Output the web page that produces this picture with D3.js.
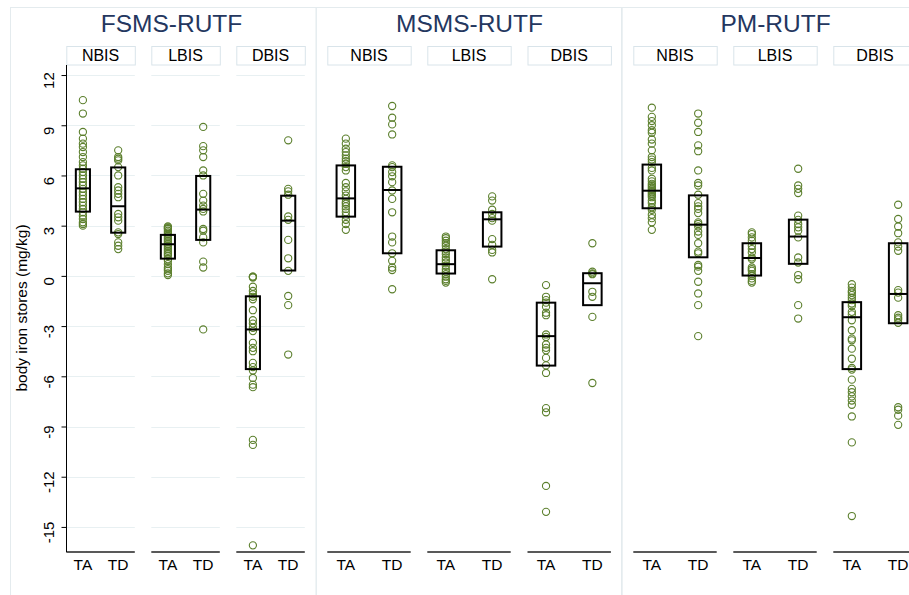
<!DOCTYPE html>
<html><head><meta charset="utf-8">
<script src="https://cdn.jsdelivr.net/npm/d3@7"></script>
<style>body{margin:0;background:#fff}svg{display:block;font-family:"Liberation Sans",Arial,sans-serif}</style>
</head><body>
<svg id="c" width="909" height="595"></svg>
<script>
// ---------- DATA ----------
const arms = ["FSMS-RUTF", "MSMS-RUTF", "PM-RUTF"];
const statuses = ["NBIS", "LBIS", "DBIS"];
const groups = ["TA", "TD"];
const yTicks = [12, 9, 6, 3, 0, -3, -6, -9, -12, -15];
const yTitle = "body iron stores (mg/kg)";

const fsms_nbis_ta = [10.5, 9.7, 8.6, 8.2, 7.9, 7.7, 7.4, 7.1, 6.8, 6.6, 6.4, 6.2, 6.0, 5.8, 5.6, 5.4, 5.2, 5.0, 4.8, 4.6, 4.4, 4.2, 4.0, 3.8, 3.6, 3.4, 3.2, 3.1, 3.0];
const fsms_nbis_td = [7.5, 7.1, 7.0, 6.9, 6.5, 6.0, 5.3, 5.1, 4.9, 4.7, 3.7, 3.5, 3.3, 2.6, 2.5, 2.0, 1.8, 1.6];
const fsms_lbis_ta = [2.95, 2.9, 2.85, 2.8, 2.7, 2.6, 2.5, 2.4, 2.3, 2.2, 2.1, 2.0, 1.9, 1.8, 1.7, 1.6, 1.5, 1.4, 1.3, 1.2, 1.0, 0.9, 0.7, 0.5, 0.4, 0.3, 0.15, 0.05];
const fsms_lbis_td = [8.9, 7.75, 7.5, 7.1, 6.3, 6.0, 4.9, 4.5, 4.2, 4.0, 3.85, 2.8, 2.7, 2.3, 2.0, 0.85, 0.5, -3.2];
const fsms_dbis_ta = [-0.05, -0.05, -0.1, -0.65, -0.9, -1.1, -1.25, -1.4, -2.05, -2.65, -2.85, -3.1, -3.3, -4.0, -4.3, -4.5, -5.2, -5.45, -5.65, -6.1, -6.5, -6.65, -9.8, -10.1, -16.1];
const fsms_dbis_td = [8.1, 5.2, 5.05, 4.85, 3.55, 3.35, 2.15, 1.05, 0.3, -1.2, -1.75, -4.7];

const msms_nbis_ta = [8.2, 7.9, 7.6, 7.4, 7.2, 7.0, 6.85, 6.7, 6.5, 6.3, 5.55, 5.3, 5.05, 4.8, 4.6, 4.4, 4.3, 4.15, 4.0, 3.8, 3.6, 3.35, 3.1, 2.75];
const msms_nbis_td = [10.15, 9.45, 9.05, 8.45, 6.6, 6.5, 6.2, 5.95, 5.6, 5.1, 4.6, 3.8, 2.35, 2.0, 1.35, 0.9, 0.5, 0.35, -0.8];
const msms_lbis_ta = [2.35, 2.25, 2.1, 1.95, 1.8, 1.6, 1.45, 1.3, 1.1, 0.95, 0.8, 0.6, 0.4, 0.25, 0.1, -0.05, -0.2, -0.3, -0.4];
const msms_lbis_td = [4.75, 4.5, 3.95, 3.7, 3.45, 3.3, 2.2, 1.85, 1.55, 1.4, -0.2];
const msms_dbis_ta = [-0.55, -1.25, -1.45, -1.6, -1.85, -2.2, -2.35, -3.5, -3.65, -4.1, -4.3, -4.45, -4.9, -5.35, -5.8, -7.9, -8.15, -12.55, -14.1];
const msms_dbis_td = [1.95, 0.25, 0.15, 0.1, -0.95, -1.25, -2.45, -6.4];

const pm_nbis_ta = [10.05, 9.5, 9.25, 9.0, 8.7, 8.55, 8.15, 7.9, 7.5, 7.1, 6.95, 6.8, 6.45, 6.3, 5.8, 5.65, 5.5, 5.4, 5.3, 5.2, 5.1, 5.0, 4.9, 4.8, 4.7, 4.5, 4.35, 4.1, 3.95, 3.65, 3.45, 3.2, 2.75];
const pm_nbis_td = [9.7, 9.15, 8.6, 7.8, 7.45, 6.3, 5.55, 5.4, 4.85, 4.35, 4.15, 4.0, 3.75, 3.2, 3.1, 2.95, 2.65, 2.45, 1.95, 1.45, 1.35, 0.65, 0.55, 0.3, -0.35, -1.05, -1.75, -3.6];
const pm_lbis_ta = [2.6, 2.5, 2.3, 2.1, 1.8, 1.6, 1.4, 1.1, 1.0, 0.5, 0.4, 0.3, 0.1, 0.0, -0.15, -0.3, -0.4];
const pm_lbis_td = [6.4, 5.4, 5.2, 4.95, 3.6, 3.35, 3.1, 2.9, 2.7, 2.3, 1.1, 0.8, 0.05, -0.2, -1.75, -2.55];
const pm_dbis_ta = [-0.5, -0.7, -0.9, -1.0, -1.15, -1.3, -1.45, -1.65, -1.8, -2.15, -2.3, -2.65, -3.25, -3.75, -3.85, -4.35, -4.95, -5.5, -5.6, -6.2, -6.75, -6.95, -7.2, -7.45, -7.7, -8.4, -9.95, -14.35];
const pm_dbis_td = [4.25, 3.4, 2.95, 2.55, 2.0, 1.75, 1.5, -0.85, -1.0, -1.3, -2.35, -2.5, -2.6, -2.8, -7.85, -8.0, -8.35, -8.9];

// box statistics (upper quartile, median, lower quartile), in order arm > status > group
const boxQ3  = [6.37, 6.48, 2.45, 5.97, -1.22, 4.79,  6.6, 6.52, 1.53, 3.8, -1.6, 0.16,  6.65, 4.81, 1.95, 3.36, -1.57, 1.95];
const boxMed = [5.23, 4.16, 1.89, 3.96, -3.2, 3.3,    4.63, 5.13, 0.7, 3.38, -3.6, -0.44, 5.09, 3.06, 1.07, 2.35, -2.47, -1.08];
const boxQ1  = [3.84, 2.58, 1.03, 2.15, -5.57, 0.32,  3.54, 1.35, 0.14, 1.75, -5.36, -1.75, 4.04, 1.11, 0.02, 0.72, -5.57, -2.83];

const series = [
  [[fsms_nbis_ta, fsms_nbis_td], [fsms_lbis_ta, fsms_lbis_td], [fsms_dbis_ta, fsms_dbis_td]],
  [[msms_nbis_ta, msms_nbis_td], [msms_lbis_ta, msms_lbis_td], [msms_dbis_ta, msms_dbis_td]],
  [[pm_nbis_ta, pm_nbis_td], [pm_lbis_ta, pm_lbis_td], [pm_dbis_ta, pm_dbis_td]]
];

// ---------- LAYOUT ----------
const panelLayout = [
  {x0: 10, x1: 315.7, titleX: 171.5, subs: [66.3, 151.3, 236.3], w: 68.5, pad: 0.47, grid: true},
  {x0: 315.7, x1: 621, titleX: 469.5, subs: [327.3, 427.3, 527.5], w: 83.4, pad: 0.4, grid: false},
  {x0: 621.7, x1: 960, titleX: 775.5, subs: [633.3, 733.3, 833.3], w: 83.4, pad: 0.4, grid: false}
];
const pointColor = "#5b7f2c";
const svg = d3.select("#c");
const y = d3.scaleLinear().domain([-16.48, 12.6]).range([551.7, 65]);

panelLayout.forEach((P, pi) => {
  svg.append("rect").attr("x", P.x0 + 0.5).attr("y", 7.5)
    .attr("width", P.x1 - P.x0).attr("height", 600)
    .attr("fill", "none").attr("stroke", "#e4ebee").attr("stroke-width", 1);
  svg.append("text").attr("x", P.titleX).attr("y", 32).attr("text-anchor", "middle")
    .attr("font-size", 24.5).attr("fill", "#24375f").text(arms[pi]);

  statuses.forEach((st, si) => {
    const L = P.subs[si], W = P.w;
    const x = d3.scalePoint().domain(groups).range([L, L + W]).padding(P.pad);
    const step = x.step();
    const g = svg.append("g");
    g.append("rect").attr("x", L + 0.5).attr("y", 46.5).attr("width", W).attr("height", 18.5)
      .attr("fill", "#fff").attr("stroke", "#d9e4ea").attr("stroke-width", 1);
    g.append("text").attr("x", L + W / 2).attr("y", 60.5).attr("text-anchor", "middle")
      .attr("font-size", 16).attr("fill", "#000").text(st);
    if (P.grid) {
      g.selectAll(".grid").data(yTicks).enter().append("line")
        .attr("x1", L).attr("x2", L + W)
        .attr("y1", d => Math.round(y(d)) + 0.5).attr("y2", d => Math.round(y(d)) + 0.5)
        .attr("stroke", "#e8f0f2").attr("stroke-width", 1.2);
    }
    g.append("line").attr("x1", L).attr("x2", L + W).attr("y1", 552).attr("y2", 552)
      .attr("stroke", "#222").attr("stroke-width", 1.3);
    groups.forEach(gr => {
      g.append("text").attr("x", x(gr)).attr("y", 569.5).attr("text-anchor", "middle")
        .attr("font-size", 15.5).attr("fill", "#000").text(gr);
    });
    groups.forEach((gr, gi) => {
      const vals = series[pi][si][gi];
      g.selectAll(null).data(vals).enter().append("circle")
        .attr("cx", x(gr)).attr("cy", d => y(d)).attr("r", 3.6)
        .attr("fill", "none").attr("stroke", pointColor).attr("stroke-width", 1.1);
      const k = pi * 6 + si * 2 + gi;
      const bw = step * 0.4;
      g.append("rect").attr("x", x(gr) - bw / 2).attr("y", y(boxQ3[k]))
        .attr("width", bw).attr("height", y(boxQ1[k]) - y(boxQ3[k]))
        .attr("fill", "none").attr("stroke", "#000").attr("stroke-width", 2);
      g.append("line").attr("x1", x(gr) - bw / 2).attr("x2", x(gr) + bw / 2)
        .attr("y1", y(boxMed[k])).attr("y2", y(boxMed[k]))
        .attr("stroke", "#000").attr("stroke-width", 2);
    });
  });
});

// y axis (first panel)
const yAxis = d3.axisLeft(y).tickValues(yTicks).tickSize(5).tickFormat(d => String(d));
const ya = svg.append("g").attr("transform", "translate(66.5,0)").call(yAxis);
ya.select(".domain").attr("d", "M0,65V552").attr("stroke", "#000");
ya.selectAll(".tick line").attr("stroke", "#000");
ya.selectAll(".tick text")
  .attr("font-size", 15).attr("fill", "#000")
  .attr("font-family", "Liberation Sans, Arial, sans-serif")
  .attr("transform", "translate(-13,5) rotate(-90)")
  .attr("x", 0).attr("y", 0).attr("dy", "0").attr("text-anchor", "middle");
svg.append("text").attr("transform", "translate(27,308) rotate(-90)")
  .attr("text-anchor", "middle").attr("font-size", 15.5).attr("fill", "#000").text(yTitle);
</script>
</body></html>
